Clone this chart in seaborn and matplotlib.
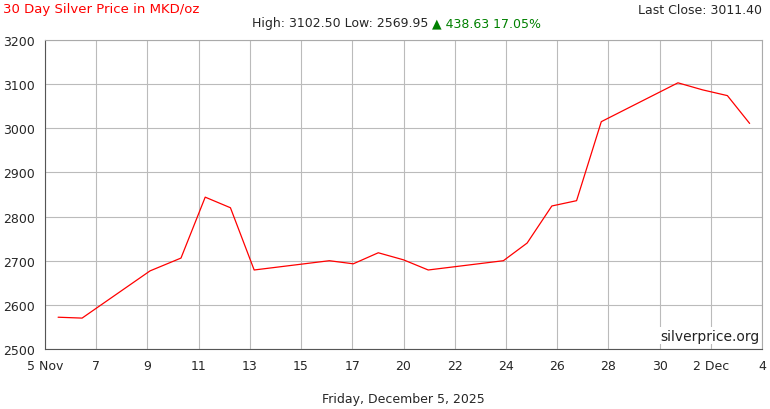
import numpy as np
import pandas as pd
import matplotlib
matplotlib.use("Agg")
import matplotlib.pyplot as plt
import seaborn as sns

# days since 5 Nov 2025 (axis start) and price in MKD/oz
days = [0.53, 1.5, 4.25, 5.5, 6.48, 7.5, 8.46, 11.5, 12.47, 13.48, 14.5, 15.5,
        18.54, 19.5, 20.5, 21.5, 22.5, 25.6, 26.6, 27.6, 28.5]
prices = [2572, 2570, 2677, 2706, 2844, 2820, 2679, 2700, 2693, 2718, 2702, 2679,
          2700, 2740, 2824, 2836, 3015, 3103, 3087, 3074, 3011]
tick_labels = ["5 Nov", "7", "9", "11", "13", "15", "17", "20", "22", "24",
               "26", "28", "30", "2 Dec", "4"]

df = pd.DataFrame({"day": days, "price": prices})

sns.set_style("whitegrid")
plt.rcParams['font.family'] = ['DejaVu Sans']
fig = plt.figure(figsize=(7.7, 4.1), dpi=100)
ax = fig.add_axes([45 / 770, 60 / 410, 717 / 770, 309 / 410])
sns.lineplot(data=df, x="day", y="price", color="red", linewidth=0.9, ax=ax)

ax.set_xlim(0, 29)
ax.set_ylim(2500, 3200)
ax.set_xticks(np.linspace(0, 29, len(tick_labels)))
ax.set_xticklabels(tick_labels, fontsize=9)
ax.set_yticks(range(2500, 3201, 100))
ax.tick_params(axis="y", labelsize=9, length=4, color="#555")
ax.tick_params(axis="x", length=4, color="#555")
ax.grid(color="#bbbbbb", linewidth=0.8)
for s in ax.spines.values():
    s.set_color("#aaaaaa")
    s.set_linewidth(0.8)
ax.spines["left"].set_color("#555")
ax.spines["bottom"].set_color("#555")
ax.set_xlabel("Friday, December 5, 2025", fontsize=9, labelpad=14)
ax.set_ylabel("")

fig.text(3 / 770, 1 - 10 / 410, "30 Day Silver Price in MKD/oz", color="red",
         fontsize=9.5, va="center")
fig.text(762 / 770, 1 - 10 / 410, "Last Close: 3011.40", fontsize=9,
         ha="right", va="center")
fig.text(252 / 770, 1 - 24 / 410, "High: 3102.50 Low: 2569.95", fontsize=9,
         va="center")
fig.text(432 / 770, 1 - 24 / 410, "\u25b2 438.63 17.05%", fontsize=9,
         color="green", va="center")
ax.text(0.996, 0.02, "silverprice.org", transform=ax.transAxes, ha="right",
        va="bottom", fontsize=10, color="#222",
        bbox=dict(facecolor="white", edgecolor="none", pad=1))

fig.savefig("out.png", dpi=100)
